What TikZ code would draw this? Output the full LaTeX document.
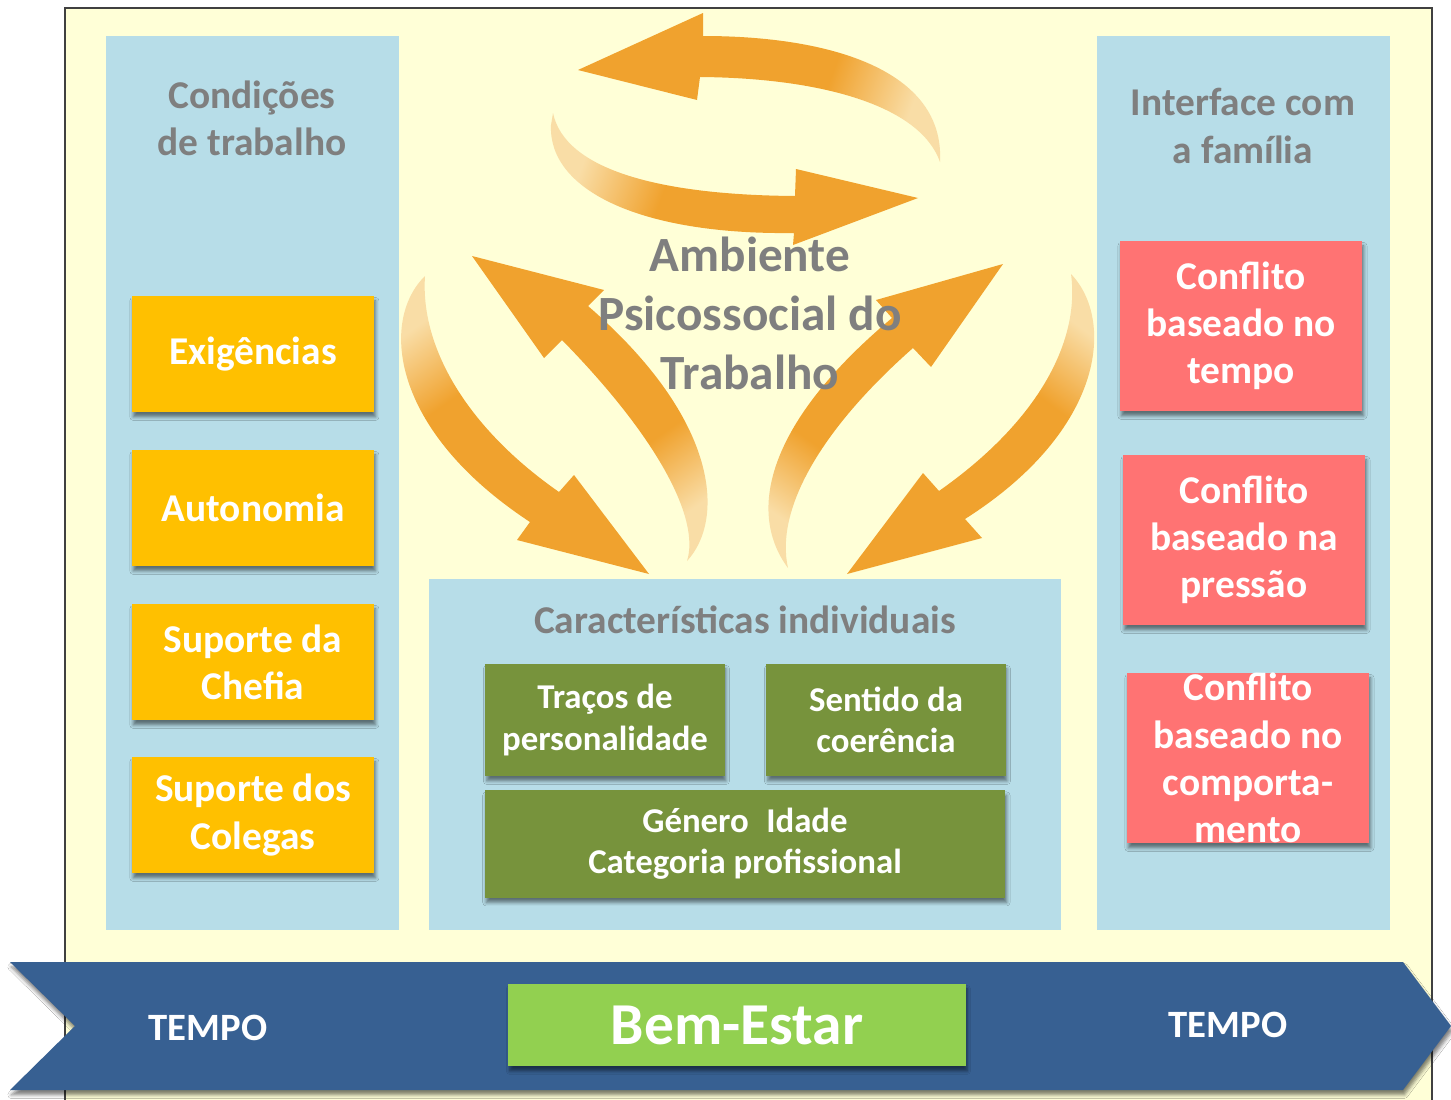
\documentclass[tikz,border=0pt]{standalone}
\usepackage{fontspec}
\setmainfont{Carlito}
\usepackage{tikz}
\usetikzlibrary{shadows}
\usetikzlibrary{shadows.blur}

\definecolor{bgyellow}{HTML}{FFFFD7}
\definecolor{framegray}{HTML}{404040}
\definecolor{panelblue}{HTML}{B7DDE8}
\definecolor{boxorange}{HTML}{FFC000}
\definecolor{boxred}{HTML}{FF7373}
\definecolor{boxgreen}{HTML}{77933C}
\definecolor{bemgreen}{HTML}{92D050}
\definecolor{chevblue}{HTML}{376092}
\definecolor{titlegray}{HTML}{7F7F7F}
\definecolor{arrowor}{HTML}{F0A22E}
\definecolor{arrowpale}{HTML}{F9DDA6}

\pgfdeclarehorizontalshading{tailfade}{100bp}{color(0bp)=(arrowpale); color(26bp)=(arrowpale); color(40bp)=(arrowor); color(100bp)=(arrowor)}

\tikzset{
  panel/.style={fill=panelblue},
  boxshadow/.style={blur shadow={shadow xshift=0.4pt, shadow yshift=-1.4pt, shadow blur radius=1pt, shadow opacity=50}},
  bigtxt/.style={font=\fontsize{11.2}{13.4}\selectfont\bfseries, align=center},
  title/.style={bigtxt, text=titlegray},
  condbox/.style={bigtxt, fill=boxorange, text=white, boxshadow, inner sep=0pt, minimum width=2.42cm, minimum height=1.16cm},
  confbox/.style={bigtxt, fill=boxred, text=white, boxshadow, inner sep=0pt, minimum width=2.42cm, minimum height=1.70cm},
  indbox/.style={font=\fontsize{9.9}{11.7}\selectfont\bfseries, align=center, fill=boxgreen, text=white, boxshadow, inner sep=0pt, minimum width=2.39cm, minimum height=1.12cm},
  tempo/.style={font=\fontsize{11}{13}\selectfont\bfseries, text=white},
  fluxo/.style={shading=tailfade, shading angle=#1}
}

\begin{document}
\begin{tikzpicture}[x=0.01cm, y=-0.01cm]
  \useasboundingbox (0,0) rectangle (1451,1100);
  \fill[white] (0,0) rectangle (1451,1100);
  % moldura
  \fill[bgyellow] (65,8) rectangle (1432,1100);
  \draw[framegray, line width=0.6pt] (65,1100) -- (65,8) -- (1432,8) -- (1432,1100);

  % paineis
  \fill[panel] (106,36) rectangle (399,930);
  \fill[panel] (1097,36) rectangle (1390,930);
  \fill[panel] (429,579) rectangle (1061,930);

  % setas do ambiente
  \shade[fluxo=160] (940,162) .. controls (945,70) and (830,36) .. (703,36)
    -- (703,13) -- (578,70) -- (697,100) -- (700,77)
    .. controls (820,78) and (920,105) .. (940,162) -- cycle;
  \shade[fluxo=-20] (553,113) .. controls (565,170) and (660,195) .. (795,196)
    -- (796,169) -- (918,198) -- (793,245) -- (794,233)
    .. controls (640,235) and (548,190) .. (551,125) -- cycle;
  \shade[fluxo=-55] (425,276) .. controls (380,320) and (390,430) .. (530,522)
    -- (517,540) -- (649,574) -- (574,475) -- (559,492)
    .. controls (470,430) and (420,350) .. (425,276) -- cycle;
  \shade[fluxo=125] (687,561) .. controls (725,520) and (720,420) .. (588,306)
    -- (604,290) -- (472,256) -- (544,358) -- (562,340)
    .. controls (660,440) and (700,520) .. (687,561) -- cycle;
  \shade[fluxo=55] (788,568) .. controls (745,510) and (770,420) .. (892,318)
    -- (876,300) -- (1003,264) -- (931,367) -- (913,348)
    .. controls (820,430) and (775,510) .. (788,568) -- cycle;
  \shade[fluxo=-127] (1071,274) .. controls (1115,320) and (1105,430) .. (965,519)
    -- (982,538) -- (847,574) -- (923,473) -- (939,491)
    .. controls (1040,420) and (1080,340) .. (1071,274) -- cycle;

  \node[font=\fontsize{14}{16.8}\selectfont\bfseries, align=center, text=titlegray] (ambiente) at (750,313) {Ambiente\\Psicossocial do\\Trabalho};

  % condicoes de trabalho
  \node[title] (cond) at (252,118) {Condições\\de trabalho};
  \node[condbox] (exig) at (253,354) {Exigências};
  \node[condbox] (auton) at (253,508) {Autonomia};
  \node[condbox] (chefia) at (253,662) {Suporte da\\Chefia};
  \node[condbox] (colegas) at (253,815) {Suporte dos\\Colegas};

  % interface com a familia
  \node[title] (familia) at (1243,126) {Interface com\\a família};
  \node[confbox] (conftempo) at (1241,326) {Conflito\\baseado no\\tempo};
  \node[confbox] (confpressao) at (1244,540) {Conflito\\baseado na\\pressão};
  \node[confbox] (confcomp) at (1248,758) {Conflito\\baseado no\\comporta-\\mento};

  % caracteristicas individuais
  \node[title] (carac) at (745,620) {Características individuais};
  \node[indbox] (tracos) at (605,720) {Traços de\\personalidade};
  \node[indbox] (sentido) at (886,720) {Sentido da\\coerência};
  \node[indbox, minimum width=5.20cm, minimum height=1.07cm] (genero) at (745,844) {Género\hspace{0.5em}Idade\\Categoria profissional};

  % tempo
  \fill[chevblue, boxshadow] (10,962) -- (1403,962) -- (1451,1026) -- (1403,1090) -- (10,1090) -- (75,1026) -- cycle;
  \node[tempo] (tempoL) at (208,1028) {TEMPO};
  \node[tempo] (tempoR) at (1228,1025) {TEMPO};
  \node[fill=bemgreen, boxshadow, text=white, font=\fontsize{16.9}{18}\selectfont\bfseries, minimum width=4.57cm, minimum height=0.82cm] (bemestar) at (737,1025) {Bem-Estar};
\end{tikzpicture}
\end{document}
